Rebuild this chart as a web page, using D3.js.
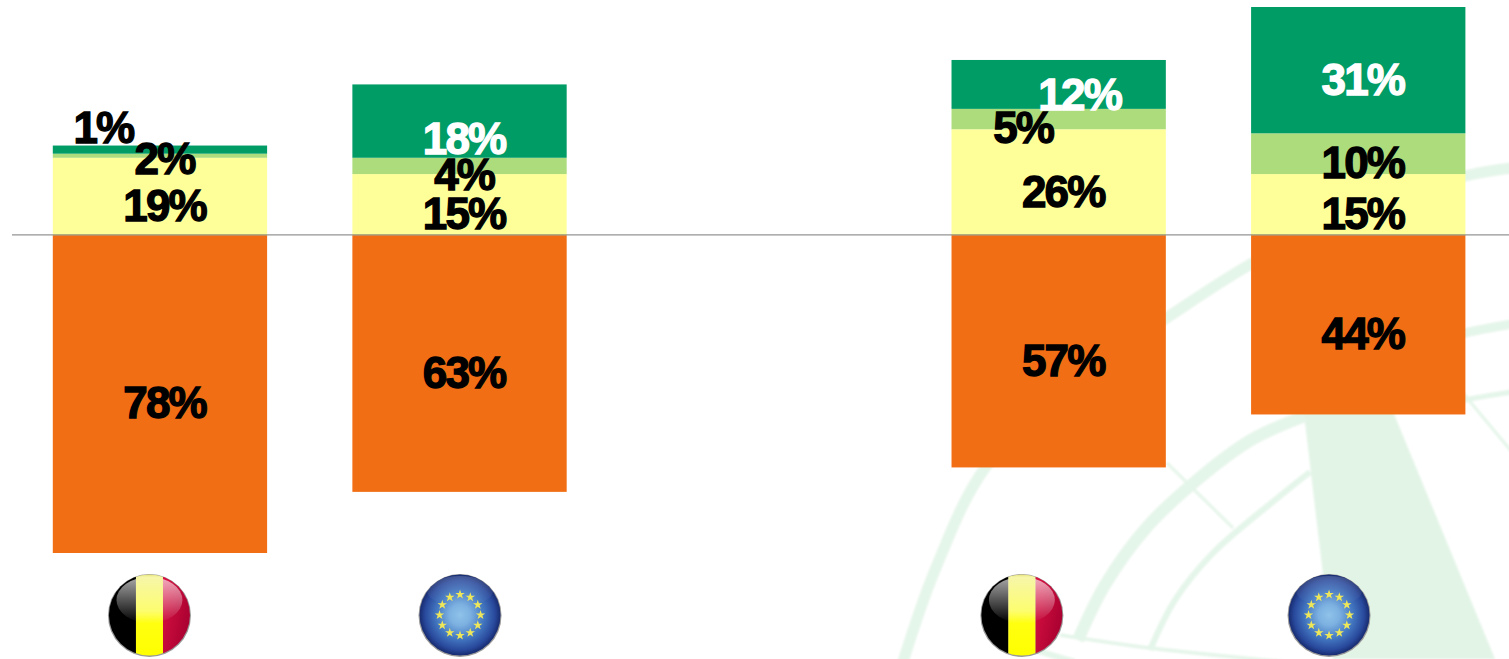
<!DOCTYPE html>
<html><head><meta charset="utf-8">
<style>html,body{margin:0;padding:0;background:#fff;overflow:hidden}svg{display:block}
text{font-family:"Liberation Sans",Arial,sans-serif;font-weight:700}</style>
<script src="https://cdnjs.cloudflare.com/ajax/libs/d3/7.8.5/d3.min.js"></script>
</head><body><script>
// ---- data ----
const bars = ["BE-1", "EU-1", "gap", "BE-2", "EU-2"];
const flags = ["be", "eu", null, "be", "eu"];
const orange = [78, 63, null, 57, 44];
const yellow = [19, 15, null, 26, 15];
const lightGreen = [1, 4, null, 5, 10];
const darkGreen = [2, 18, null, 12, 31];

const W = 1509, H = 659;
const svg = d3.select("body").append("svg").attr("width", W).attr("height", H);
const defs = svg.append("defs");

// ---- scales ----
const x = d3.scaleBand().domain(bars).range([52.8, 1465.4]).paddingInner(0.2846).paddingOuter(0);
const y = d3.scaleLinear().domain([-78, 56]).range([553, 7]);

// ---- watermark (background decoration) ----
const soft = defs.append("filter").attr("id", "wmSoft").attr("x", "-5%").attr("y", "-5%").attr("width", "110%").attr("height", "110%");
soft.append("feGaussianBlur").attr("stdDeviation", 0.8);
const wmRoot = svg.append("g").attr("filter", "url(#wmSoft)");
const curve = d3.line().curve(d3.curveCatmullRom.alpha(0.5));
wmRoot.append("path").attr("d", "M1300,380L1380,380L1495,659L1333,659Z").attr("fill", "#e2f4e6");
const wm = wmRoot.append("g").attr("fill", "none").attr("stroke", "#e4f5e9");
[
  {w: 11, p: [[903,662],[935,570],[985,468],[1075,380],[1168,317],[1251,264],[1360,210],[1465,176],[1512,168]]},
  {w: 12, p: [[1078,640],[1105,585],[1147,527],[1197,480],[1251,440],[1305,416]]},
  {w: 9,  p: [[1440,340],[1465,333],[1512,324]]},
  {w: 6,  p: [[1150,650],[1175,600],[1213,553],[1280,496],[1310,472]]},
  {w: 5,  p: [[1440,406],[1465,400],[1512,392]]},
  {w: 3,  p: [[1167,463],[1233,528]]},
  {w: 3,  p: [[1462,392],[1512,452]]},
  {w: 3.5,p: [[1060,635],[1150,648],[1285,662]]},
  {w: 6,  p: [[1035,650],[1075,662]]},
].forEach(s => wm.append("path").attr("d", curve(s.p)).attr("stroke-width", s.w));

// ---- bars ----
const rows = bars.map((b, i) => ({bar: b, i, yellow: yellow[i] || 0, light: lightGreen[i] || 0, dark: darkGreen[i] || 0}));
const seriesKeys = ["yellow", "light", "dark"];
const colours = {orange: "#f26e15", yellow: "#ffff99", light: "#addc7c", dark: "#009c66"};
const stacked = d3.stack().keys(seriesKeys)(rows);

const segs = [];
rows.forEach((r, i) => { if (orange[i] != null) segs.push({key: "orange", i, v: orange[i], y0: -orange[i], y1: 0}); });
stacked.forEach(s => s.forEach((d, i) => {
  const v = d[1] - d[0];
  if (v > 0) segs.push({key: s.key, i, v, y0: d[0], y1: d[1]});
}));

svg.append("g").selectAll("rect").data(segs).join("rect")
  .attr("x", d => x(bars[d.i])).attr("width", x.bandwidth())
  .attr("y", d => y(d.y1)).attr("height", d => y(d.y0) - y(d.y1))
  .attr("fill", d => colours[d.key]);

// ---- baseline ----
svg.append("line").attr("x1", 12).attr("x2", W).attr("y1", y(0) - 0.3).attr("y2", y(0) - 0.3)
  .attr("stroke", "#707070").attr("stroke-opacity", 0.75).attr("stroke-width", 1.4);

// ---- labels ----
const labelDx = 4.6, labelDy = 24.4;
const nudges = {"0|light": {dx: -56.5, dy: -13}, "1|dark": {dy: 33}, "3|light": {dx: -35.5}, "3|dark": {dx: 21, dy: 26}};
const labelFill = d => (d.key === "dark" && d.v >= 5) ? "#fff" : "#000";
svg.append("g").selectAll("text").data(segs).join("text")
  .attr("x", d => x(bars[d.i]) + x.bandwidth() / 2 + ((nudges[d.i + "|" + d.key] || {}).dx ?? labelDx))
  .attr("y", d => (y(d.y0) + y(d.y1)) / 2 + ((nudges[d.i + "|" + d.key] || {}).dy ?? labelDy))
  .attr("text-anchor", "middle").attr("font-size", 44).attr("letter-spacing", -1.8)
  .attr("fill", labelFill).attr("stroke", labelFill).attr("stroke-width", 1.3)
  .text(d => d.v + "%");

// ---- flag badges ----
const g1 = defs.append("linearGradient").attr("id", "gloss").attr("x1", 0).attr("x2", 0).attr("y1", 0).attr("y2", 1);
g1.append("stop").attr("offset", 0).attr("stop-color", "#fff").attr("stop-opacity", 0.66);
g1.append("stop").attr("offset", 1).attr("stop-color", "#fff").attr("stop-opacity", 0);
const g2 = defs.append("radialGradient").attr("id", "euBlue").attr("cx", 0.5).attr("cy", 0.5).attr("r", 0.52);
[[0, "#8fc3ea"], [0.25, "#7cb0e0"], [0.55, "#4479c2"], [0.82, "#29499c"], [1, "#101f5e"]]
  .forEach(s => g2.append("stop").attr("offset", s[0]).attr("stop-color", s[1]));
const g3 = defs.append("linearGradient").attr("id", "beYellow").attr("x1", 0).attr("x2", 0).attr("y1", 0).attr("y2", 1);
[[0, "#e0d860"], [0.05, "#f6f6a8"], [0.45, "#fdfd70"], [0.6, "#ffff10"], [1, "#ffff00"]].forEach(s => g3.append("stop").attr("offset", s[0]).attr("stop-color", s[1]));
const g4 = defs.append("linearGradient").attr("id", "beRed").attr("x1", 0).attr("x2", 1).attr("y1", 0).attr("y2", 0.6);
[[0, "#dc1242"], [1, "#a50030"]].forEach(s => g4.append("stop").attr("offset", s[0]).attr("stop-color", s[1]));
const blur = defs.append("filter").attr("id", "soft").attr("x", "-10%").attr("y", "-10%").attr("width", "120%").attr("height", "120%");
blur.append("feGaussianBlur").attr("stdDeviation", 0.6);
defs.append("clipPath").attr("id", "disc").append("circle").attr("r", 40.5);

const badgeY = 615;
const badgeDx = [-10.5, 0.5, 0, -36.8, -29.2];
const flagGroups = svg.append("g").selectAll("g").data(bars.map((b, i) => ({b, i, f: flags[i]})).filter(d => d.f)).join("g")
  .attr("transform", d => `translate(${x(d.b) + x.bandwidth() / 2 + badgeDx[d.i]},${badgeY})`);

flagGroups.append("circle").attr("r", 41.5).attr("cy", 0.5).attr("fill", "#999").attr("filter", "url(#soft)");
flagGroups.each(function (d) {
  const g = d3.select(this).append("g").attr("clip-path", "url(#disc)");
  if (d.f === "be") {
    g.append("rect").attr("x", -42).attr("y", -42).attr("width", 28.5).attr("height", 84).attr("fill", "#000");
    g.append("rect").attr("x", 13.5).attr("y", -42).attr("width", 29).attr("height", 84).attr("fill", "url(#beRed)");
    g.append("ellipse").attr("cx", 0).attr("cy", -15).attr("rx", 33).attr("ry", 23).attr("fill", "url(#gloss)");
    g.append("rect").attr("x", -13.5).attr("y", -42).attr("width", 27).attr("height", 84).attr("fill", "url(#beYellow)");
  } else {
    g.append("circle").attr("r", 41).attr("fill", "url(#euBlue)");
    g.append("ellipse").attr("cx", 0).attr("cy", -24).attr("rx", 33).attr("ry", 15).attr("fill", "url(#gloss)").attr("opacity", 0.25);
    const star = d3.symbol().type(d3.symbolStar).size(28);
    d3.range(12).forEach(k => {
      const a = k / 12 * 2 * Math.PI;
      g.append("path").attr("d", star)
        .attr("transform", `translate(${20.5 * Math.sin(a)},${-20.5 * Math.cos(a)})`)
        .attr("fill", "#efe75a");
    });
  }
});
</script></body></html>
